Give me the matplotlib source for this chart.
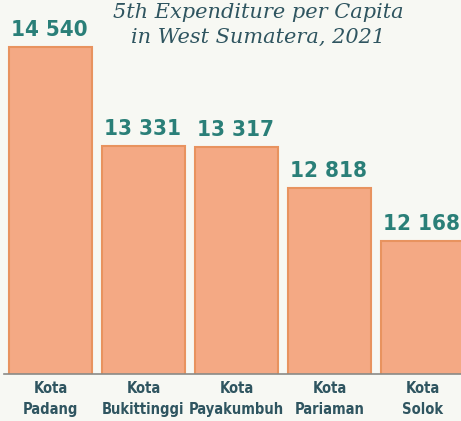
import matplotlib
matplotlib.use('Agg')
import matplotlib.pyplot as plt

cities = ['Kota\nPadang', 'Kota\nBukittinggi', 'Kota\nPayakumbuh', 'Kota\nPariaman', 'Kota\nSolok']
values = [14540, 13331, 13317, 12818, 12168]
value_labels = ['14 540', '13 331', '13 317', '12 818', '12 168']

bg = '#f7f8f3'
bar_fill = '#f4a984'
bar_edge = '#e8935f'
teal = '#2a7f78'
dark = '#2f5560'

fig = plt.figure(figsize=(4.61, 4.21), dpi=100, facecolor=bg)
ax = fig.add_axes([0, (421 - 374) / 421, 1, 374 / 421])
ax.set_facecolor(bg)

x = list(range(len(values)))
ax.bar(x, values, width=0.89, color=bar_fill, edgecolor=bar_edge, linewidth=1.5)

for xi, v, lab in zip(x, values, value_labels):
    ax.annotate(lab, (xi, v), xytext=(-1, 5), textcoords='offset points',
                ha='center', va='bottom', fontsize=16, fontweight='bold',
                fontstretch='condensed', family='DejaVu Sans', color=teal)

ax.set_xlim(-0.543, 4.414)
ax.set_ylim(10550, 15113)
for s in ax.spines.values():
    s.set_visible(False)
ax.axhline(10550, xmin=0.009, xmax=1, color='#8a8a86', linewidth=1.2, clip_on=False)
ax.set_xticks(x)
ax.set_xticklabels(cities, fontsize=10.5, fontweight='bold', color=dark,
                   family='DejaVu Sans', fontstretch='condensed', linespacing=1.5)
ax.tick_params(axis='x', length=0, pad=5)
ax.set_yticks([])

fig.text(0.56, 0.888, '5th Expenditure per Capita\nin West Sumatera, 2021',
         ha='center', va='bottom', fontsize=15, style='italic',
         family='DejaVu Serif', color=dark, linespacing=1.4)

fig.savefig('out.png', dpi=100, facecolor=bg)
